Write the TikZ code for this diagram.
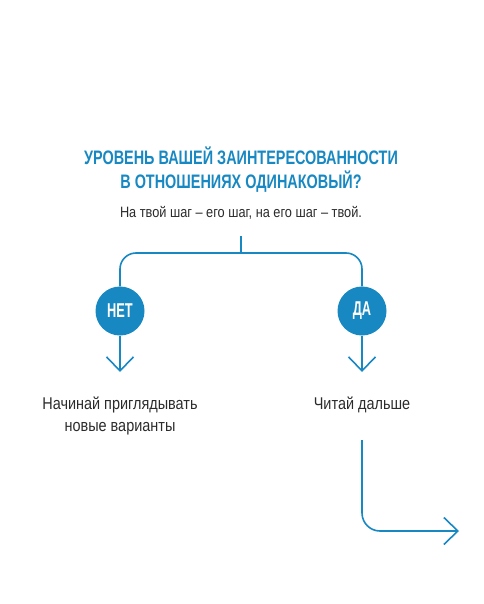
\documentclass[tikz,border=0pt]{standalone}
\usepackage{fontspec}
\setmainfont[FakeStretch=0.85]{Liberation Sans}
\newfontfamily\headfont[FakeStretch=0.74]{Liberation Sans}
\newfontfamily\badgefont[FakeStretch=0.64]{Liberation Sans}
\usepackage{tikz}
\usetikzlibrary{arrows.meta,positioning}
\definecolor{dinblue}{HTML}{1788C2}
\definecolor{txtgray}{HTML}{2B2B2B}

\begin{document}
\begin{tikzpicture}[
    x=1pt, y=-1pt,
    line/.style={draw=dinblue, line width=1.6pt},
    arrow/.style={line, -{Straight Barb[length=14pt, width=27pt, line width=1.6pt]}},
    answer/.style={circle, fill=dinblue, minimum size=49pt, inner sep=0pt, text=white, font=\badgefont\bfseries\fontsize{20}{24}\selectfont},
    label/.style={align=center, text=txtgray, font=\fontsize{17}{22}\selectfont}
]
\useasboundingbox (0,0) rectangle (483,604);
\node[align=center, text=dinblue, font=\headfont\bfseries\fontsize{19.5}{24}\selectfont] (q) at (241,170) {УРОВЕНЬ ВАШЕЙ ЗАИНТЕРЕСОВАННОСТИ\\В ОТНОШЕНИЯХ ОДИНАКОВЫЙ?};
\node[text=txtgray, font=\fontsize{15}{18}\selectfont] (sub) at (241,213) {На твой шаг – его шаг, на его шаг – твой.};
\coordinate (top) at (241,236);
\coordinate (fork) at (241,253);
\node[answer] (no) at (120,311) {НЕТ};
\node[answer] (yes) at (362,311) {ДА};
\coordinate (noend) at (120,372);
\coordinate (yesend) at (362,372);
\node[label] (look) at (120,416) {Начинай приглядывать\\новые варианты};
\node[label] (read) at (362,405) {Читай дальше};
\coordinate (next) at (362,440);
\coordinate (out) at (459,531);
% branches
\draw[line] (top) -- (fork);
\draw[line, rounded corners=16pt] (fork) -| (no);
\draw[line, rounded corners=16pt] (fork) -| (yes);
\draw[arrow] (no) -- (noend);
\draw[arrow] (yes) -- (yesend);
\draw[arrow, rounded corners=18pt] (next) |- (out);
\end{tikzpicture}
\end{document}
